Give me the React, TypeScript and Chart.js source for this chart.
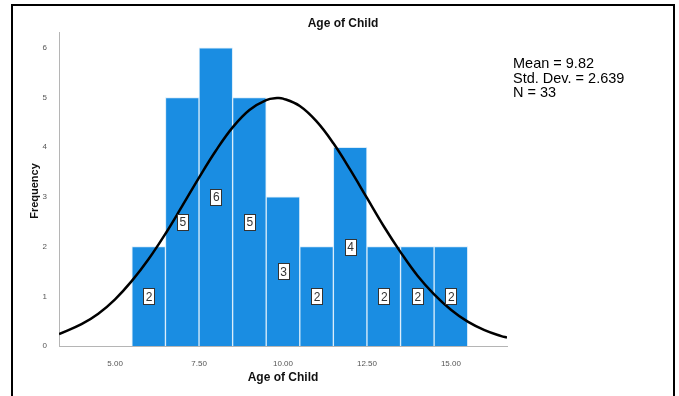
import React, { useEffect, useRef } from "react";
import { Chart, registerables } from "chart.js";
Chart.register(...registerables);

const binCenters = [6, 7, 8, 9, 10, 11, 12, 13, 14, 15];
const frequencies = [2, 5, 6, 5, 3, 2, 4, 2, 2, 2];
const curveX = [3.33, 4, 4.5, 5, 5.5, 6, 6.5, 7, 7.5, 8, 8.5, 9, 9.5, 9.82, 10, 10.5, 11, 11.5, 12, 12.5, 13, 13.5, 14, 14.5, 15, 15.5, 16, 16.5, 16.67];
const curveY = [0.24, 0.44, 0.65, 0.94, 1.31, 1.75, 2.26, 2.82, 3.39, 3.93, 4.4, 4.75, 4.95, 4.99, 4.98, 4.83, 4.52, 4.08, 3.55, 2.98, 2.41, 1.89, 1.42, 1.04, 0.73, 0.49, 0.32, 0.2, 0.17];
const xTicks = [5, 7.5, 10, 12.5, 15];
const yTicks = [0, 1, 2, 3, 4, 5, 6];
const chartTitle = "Age of Child";
const xTitle = "Age of Child";
const yTitle = "Frequency";
const statsLines = ["Mean = 9.82", "Std. Dev. = 2.639", "N = 33"];

const FONT = "'Liberation Sans', Arial, sans-serif";

const framePlugin = {
  id: "frame",
  beforeDraw(chart: any) {
    const ctx = chart.ctx;
    ctx.save();
    ctx.fillStyle = "#fff";
    ctx.fillRect(0, 0, chart.width, chart.height);
    ctx.strokeStyle = "#000";
    ctx.lineWidth = 2;
    ctx.strokeRect(12, 5, 662, 420);
    ctx.restore();
  },
};

const labelsPlugin = {
  id: "barLabels",
  afterDraw(chart: any) {
    const ctx = chart.ctx;
    const xs = chart.scales.x;
    const ys = chart.scales.y;
    ctx.save();
    // bar count boxes
    ctx.font = `12px ${FONT}`;
    ctx.textAlign = "center";
    ctx.textBaseline = "middle";
    binCenters.forEach((c, i) => {
      const f = frequencies[i];
      const px = xs.getPixelForValue(c);
      const py = ys.getPixelForValue(f / 2);
      const w = 11;
      const h = 16;
      ctx.fillStyle = "#fff";
      ctx.fillRect(Math.round(px - w / 2) + 0.5, Math.round(py - h / 2) + 0.5, w, h);
      ctx.strokeStyle = "#333";
      ctx.lineWidth = 1;
      ctx.strokeRect(Math.round(px - w / 2) + 0.5, Math.round(py - h / 2) + 0.5, w, h);
      ctx.fillStyle = "#333";
      ctx.fillText(String(f), px + 0.5, py + 1);
    });
    // title
    ctx.fillStyle = "#111";
    ctx.font = `bold 12px ${FONT}`;
    ctx.fillText(chartTitle, 343, 24);
    // x title
    ctx.fillText(xTitle, (chart.chartArea.left + chart.chartArea.right) / 2, 378);
    // y title
    ctx.save();
    ctx.translate(35, 191);
    ctx.rotate(-Math.PI / 2);
    ctx.font = `bold 11px ${FONT}`;
    ctx.fillText(yTitle, 0, 0);
    ctx.restore();
    // stats
    ctx.textAlign = "left";
    ctx.font = `14.5px ${FONT}`;
    ctx.fillStyle = "#000";
    statsLines.forEach((s, i) => {
      ctx.fillText(s, 513, 64 + i * 14.5);
    });
    ctx.restore();
  },
};

export default function App() {
  const ref = useRef<HTMLCanvasElement>(null);
  useEffect(() => {
    if (!ref.current) return;
    const chart = new Chart(ref.current, {
      type: "bar",
      data: {
        datasets: [
          {
            type: "line",
            data: curveX.map((x, i) => ({ x, y: curveY[i] })),
            borderColor: "#000",
            borderWidth: 2.5,
            pointRadius: 0,
            tension: 0.4,
            fill: false,
            order: 0,
          } as any,
          {
            type: "bar",
            data: binCenters.map((x, i) => ({ x, y: frequencies[i] })),
            backgroundColor: "#1a8de2",
            borderColor: "#d8ecfa",
            borderWidth: 1,
            barPercentage: 1,
            categoryPercentage: 1,
            order: 1,
          } as any,
        ],
      },
      options: {
        animation: false,
        responsive: true,
        maintainAspectRatio: false,
        layout: { padding: { left: 20, right: 172, top: 32, bottom: 0 } },
        plugins: { legend: { display: false }, tooltip: { enabled: false }, title: { display: false } },
        scales: {
          x: {
            type: "linear",
            min: 3.33,
            max: 16.67,
            offset: false,
            grid: { display: false, offset: false },
            border: { display: true, color: "#b5b5b5", width: 1 },
            ticks: {
              font: { size: 8, family: FONT },
              color: "#555",
              padding: 5,
              maxRotation: 0,
              autoSkip: false,
              callback: (v: any) => Number(v).toFixed(2),
            },
            afterBuildTicks: (s: any) => {
              s.ticks = xTicks.map((v) => ({ value: v }));
            },
            afterFit: (s: any) => {
              s.height = 50;
            },
          },
          y: {
            type: "linear",
            min: 0,
            max: 6.32,
            grid: { display: false },
            border: { display: true, color: "#b5b5b5", width: 1 },
            ticks: {
              font: { size: 8, family: FONT },
              color: "#555",
              padding: 4,
              autoSkip: false,
            },
            afterBuildTicks: (s: any) => {
              s.ticks = yTicks.map((v) => ({ value: v }));
            },
            afterFit: (s: any) => {
              s.width = 39;
            },
          },
        },
      } as any,
      plugins: [framePlugin, labelsPlugin],
    });
    return () => chart.destroy();
  }, []);
  return (
    <div style={{ position: "fixed", left: 0, top: 0, width: 679, height: 396, background: "#fff" }}>
      <canvas ref={ref} />
    </div>
  );
}
